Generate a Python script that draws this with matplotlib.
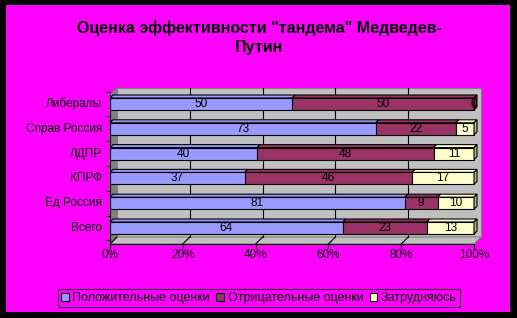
import matplotlib
matplotlib.use("Agg")
import matplotlib.pyplot as plt
from matplotlib.patches import Polygon, Rectangle, Patch
import numpy as np

categories = ["Всего", "Ед Россия", "КПРФ", "ЛДПР", "Справ Россия", "Либералы"]
positive = [64, 81, 37, 40, 73, 50]
negative = [23, 9, 46, 48, 22, 50]
uncertain = [13, 10, 17, 11, 5, 0]
series_names = ["Положительные оценки", "Отрицательные оценки", "Затрудняюсь"]
colors = ["#9999FF", "#993366", "#FFFFCC"]
side_colors = ["#6B6BB3", "#6B2447", "#B3B38F"]
xticks = [0, 20, 40, 60, 80, 100]
xticklabels = ["0%", "20%", "40%", "60%", "80%", "100%"]
title = 'Оценка эффективности "тандема" Медведев-\nПутин'

W, H = 517, 318
fig = plt.figure(figsize=(W / 100, H / 100), dpi=100)
fig.patch.set_facecolor("#FF00FF")
FONT = "Liberation Sans"

# one axes over the whole figure; data scale: 0..100 % on x, category index on y
ux = 100 / 364.0          # x data units per pixel (0% at px 110, 100% at px 474)
py_step = 24.8
uy = 1 / py_step          # y data units per pixel (category spacing 24.8 px)
x_left = -110 * ux
x_right = (W - 110) * ux
y_bottom = (228 - H) / py_step
y_top = 228 / py_step

ax = fig.add_axes([0, 0, 1, 1])
ax.patch.set_visible(False)
ax.axis("off")
ax.set_xlim(x_left, x_right)
ax.set_ylim(y_bottom, y_top)
ax.set_autoscale_on(False)

y0 = (228 - 244) / py_step   # front floor edge
y1 = (228 - 88) / py_step    # top of back wall
dx, dy = 7 * ux, 7 * uy
lw = 0.8

# 3D back wall, side wall and floor
ax.fill([dx, 100 + dx, 100 + dx, dx], [y0 + dy, y0 + dy, y1, y1],
        facecolor="#C0C0C0", edgecolor="#808080", lw=lw, zorder=1)
ax.fill([0, dx, dx, 0], [y0, y0 + dy, y1, y1 - dy],
        facecolor="#808080", edgecolor="#808080", lw=lw, zorder=1)
ax.fill([0, 100, 100 + dx, dx], [y0, y0, y0 + dy, y0 + dy],
        facecolor="#C0C0C0", edgecolor="#808080", lw=lw, zorder=1)
for t in xticks[1:-1]:
    ax.plot([t + dx, t + dx], [y0 + dy, y1], color="black", lw=lw, zorder=2)
    ax.plot([t, t + dx], [y0, y0 + dy], color="black", lw=lw, zorder=2)
ax.plot([0, dx], [y0, y0 + dy], color="black", lw=lw, zorder=2)

# front axis lines and ticks
ax.plot([0, 0], [y0, y1 - dy], color="black", lw=lw, zorder=6)
ax.plot([0, 100], [y0, y0], color="black", lw=lw, zorder=6)
for k in range(len(categories) + 1):
    yy = k - 0.5
    ax.plot([-4 * ux, 0], [yy, yy], color="black", lw=lw, zorder=6)
for t, lab in zip(xticks, xticklabels):
    ax.plot([t, t], [y0, y0 - 4 * uy], color="black", lw=lw, zorder=6)
    ax.text(t, y0 - 11 * uy, lab, ha="center", va="center", fontsize=8.5,
            family=FONT, color="black")
for i, c in enumerate(categories):
    ax.text(-8 * ux, i, c, ha="right", va="center", fontsize=8.5,
            family=FONT, color="black")

# stacked 100% bars with a small 3D top and end cap
h = 12 * uy
bdx, bdy = 3 * ux, 3 * uy
data = np.array([positive, negative, uncertain], dtype=float)
totals = data.sum(axis=0)
for i in range(len(categories)):
    left = 0.0
    for s in range(3):
        w = data[s, i] / totals[i] * 100
        yb, yt = i - h / 2, i + h / 2
        if w > 0:
            ax.add_patch(Polygon([(left, yt), (left + w, yt), (left + w + bdx, yt + bdy), (left + bdx, yt + bdy)],
                                 closed=True, facecolor=colors[s], edgecolor="black", lw=lw, zorder=3))
            ax.add_patch(Rectangle((left, yb), w, h, facecolor=colors[s], edgecolor="black",
                                   lw=lw, zorder=4))
        left += w
        cx = left - w / 2
        ax.text(cx, i, f"{int(data[s, i])}", ha="center", va="center", fontsize=8.5,
                family=FONT, color="black", zorder=7)
    last = [s for s in range(3) if data[s, i] > 0][-1]
    yb, yt = i - h / 2, i + h / 2
    ax.add_patch(Polygon([(100, yb), (100 + bdx, yb + bdy), (100 + bdx, yt + bdy), (100, yt)],
                         closed=True, facecolor=side_colors[last], edgecolor="black", lw=lw, zorder=5))

# title
ax.text(259 / W, 1 - 37.5 / H, title, transform=ax.transAxes, ha="center", va="center",
        fontsize=11.5, fontweight="bold", family=FONT, color="black", linespacing=1.3)

# legend
handles = [Patch(facecolor=c, edgecolor="black", lw=0.8) for c in colors]
leg = ax.legend(handles, series_names, loc="center", bbox_to_anchor=(259 / W, 1 - 298 / H),
                bbox_transform=ax.transAxes, ncol=3, frameon=True, fancybox=False,
                edgecolor="black", facecolor="none", prop={"family": FONT, "size": 9},
                handlelength=0.6, handleheight=0.6, handletextpad=0.3, columnspacing=0.5,
                borderpad=0.25)
leg.get_frame().set_linewidth(0.8)

# black outer frame
for (bx, by, bw, bh) in [(0, 0, 6, H), (510, 0, 7, H), (0, 0, W, 5), (0, 312, W, 6)]:
    ax.add_patch(Rectangle((bx / W, 1 - (by + bh) / H), bw / W, bh / H,
                           transform=ax.transAxes, facecolor="black",
                           edgecolor="none", zorder=20))

fig.savefig("out.png", dpi=100, facecolor=fig.get_facecolor())
